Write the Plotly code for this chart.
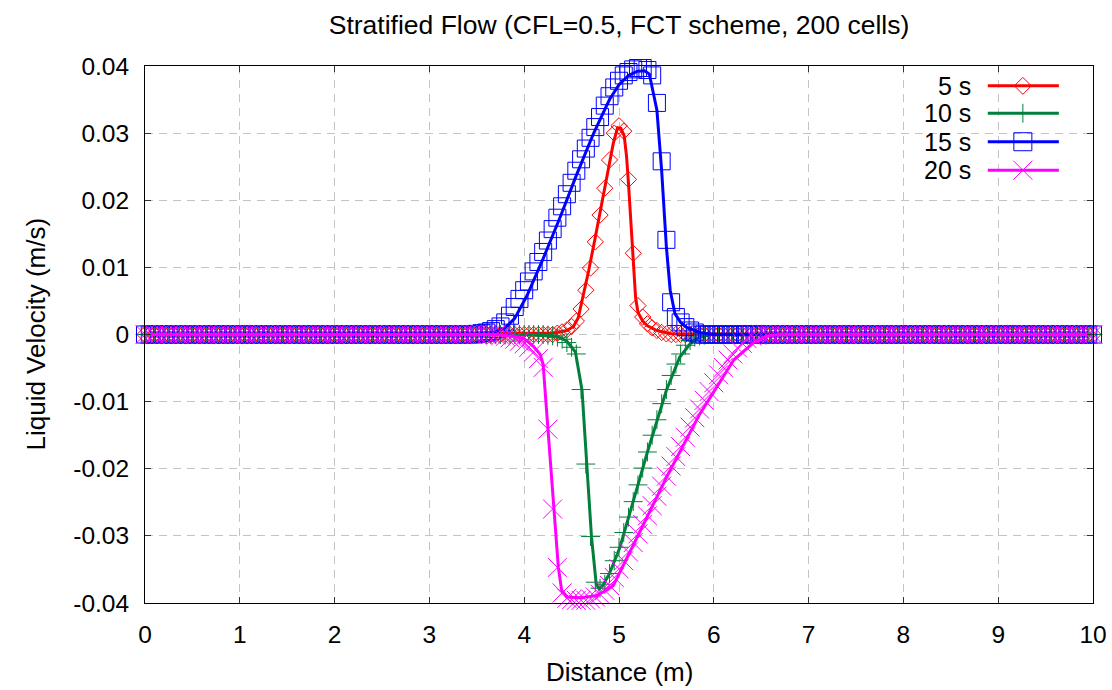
import numpy as np
import plotly.graph_objects as go

# ---------------- data ----------------
# cell positions (200 cells, markers from 0 to 10 m)
cell_x = [round(i * 0.05, 2) for i in range(201)]

# numerical solution (markers): non-zero cells only, all other cells are 0
num5_x = [4.35, 4.40, 4.45, 4.50, 4.55, 4.60, 4.65, 4.70, 4.75, 4.80, 4.85, 4.90, 4.95,
          5.00, 5.05, 5.10, 5.15, 5.20, 5.25, 5.30, 5.35, 5.40, 5.45, 5.50]
num5_y = [0.0002, 0.0004, 0.0007, 0.0012, 0.0020, 0.0038, 0.0066, 0.0099, 0.0138, 0.0178,
          0.0218, 0.0260, 0.0300, 0.0311, 0.0303, 0.0231, 0.0121, 0.0043, 0.0026, 0.0016,
          0.0010, 0.0006, 0.0003, 0.0001]

num10_x = [4.25, 4.30, 4.35, 4.40, 4.45, 4.50, 4.55, 4.60, 4.65, 4.70, 4.75, 4.80, 4.85,
           4.90, 4.95, 5.00, 5.05, 5.10, 5.15, 5.20, 5.25, 5.30, 5.35, 5.40, 5.45, 5.50,
           5.55, 5.60, 5.65, 5.70, 5.75, 5.80, 5.85, 5.90]
num10_y = [-0.0001, -0.0002, -0.0004, -0.0007, -0.0012, -0.0019, -0.0029, -0.0082, -0.0193,
           -0.0301, -0.0369, -0.0378, -0.0372, -0.0356, -0.0337, -0.0317, -0.0295, -0.0272,
           -0.0249, -0.0224, -0.0199, -0.0175, -0.0150, -0.0127, -0.0103, -0.0082, -0.0061,
           -0.0044, -0.0029, -0.0016, -0.0009, -0.0004, -0.0002, -0.0001]

num15_x = [3.50, 3.55, 3.60, 3.65, 3.70, 3.75, 3.80, 3.85, 3.90, 3.95, 4.00, 4.05, 4.10,
           4.15, 4.20, 4.25, 4.30, 4.35, 4.40, 4.45, 4.50, 4.55, 4.60, 4.65, 4.70, 4.75,
           4.80, 4.85, 4.90, 4.95, 5.00, 5.05, 5.10, 5.15, 5.20, 5.25, 5.30, 5.35, 5.40,
           5.45, 5.50, 5.55, 5.60, 5.65, 5.70, 5.75, 5.80]
num15_y = [0.0001, 0.0002, 0.0003, 0.0005, 0.0008, 0.0012, 0.0018, 0.0028, 0.0041, 0.0053,
           0.0066, 0.0079, 0.0094, 0.0108, 0.0123, 0.0140, 0.0157, 0.0174, 0.0191, 0.0209,
           0.0226, 0.0244, 0.0261, 0.0277, 0.0293, 0.0309, 0.0324, 0.0341, 0.0355, 0.0368,
           0.0378, 0.0386, 0.0391, 0.0395, 0.0397, 0.0397, 0.0394, 0.0386, 0.0345, 0.0258,
           0.0141, 0.0048, 0.0026, 0.0018, 0.0011, 0.0006, 0.0003]

num20_x = [3.70, 3.75, 3.80, 3.85, 3.90, 3.95, 4.00, 4.05, 4.10, 4.15, 4.20, 4.25, 4.30,
           4.35, 4.40, 4.45, 4.50, 4.55, 4.60, 4.65, 4.70, 4.75, 4.80, 4.85, 4.90, 4.95,
           5.00, 5.05, 5.10, 5.15, 5.20, 5.25, 5.30, 5.35, 5.40, 5.45, 5.50, 5.55, 5.60,
           5.65, 5.70, 5.75, 5.80, 5.85, 5.90, 5.95, 6.00, 6.05, 6.10, 6.15, 6.20, 6.25,
           6.30, 6.35, 6.40, 6.45]
num20_y = [-0.0001, -0.0002, -0.0003, -0.0005, -0.0007, -0.0010, -0.0014, -0.0019, -0.0026,
           -0.0036, -0.0049, -0.0141, -0.0260, -0.0347, -0.0385, -0.0393, -0.0395, -0.0396,
           -0.0396, -0.0396, -0.0394, -0.0391, -0.0387, -0.0381, -0.0374, -0.0362, -0.0349,
           -0.0337, -0.0324, -0.0310, -0.0297, -0.0283, -0.0270, -0.0255, -0.0241, -0.0226,
           -0.0211, -0.0196, -0.0182, -0.0167, -0.0153, -0.0138, -0.0124, -0.0111, -0.0098,
           -0.0085, -0.0072, -0.0060, -0.0049, -0.0038, -0.0029, -0.0020, -0.0013, -0.0006,
           -0.0002, -0.0001]

# reference solution (solid lines)
ref5_x = [0, 4.30, 4.45, 4.52, 4.57, 4.62, 4.68, 4.75, 4.82, 4.88, 4.94, 4.985, 5.02, 5.055,
          5.08, 5.10, 5.125, 5.15, 5.175, 5.20, 5.25, 5.30, 5.40, 5.55, 10]
ref5_y = [0, 0.0002, 0.0006, 0.0012, 0.0025, 0.0055, 0.0095, 0.0145, 0.0195, 0.0240, 0.0285,
          0.0308, 0.0307, 0.0296, 0.0265, 0.0225, 0.0165, 0.0105, 0.0055, 0.0033, 0.0020,
          0.0013, 0.0006, 0.0001, 0]

ref10_x = [0, 4.0, 4.35, 4.45, 4.54, 4.61, 4.66, 4.71, 4.76, 4.79, 4.83, 4.90, 5.01, 5.15,
           5.30, 5.50, 5.64, 5.75, 5.82, 5.95, 10]
ref10_y = [0, 0, -0.0003, -0.0010, -0.0026, -0.0083, -0.0193, -0.0302, -0.0372, -0.0379,
           -0.0374, -0.0356, -0.0317, -0.0249, -0.0175, -0.0083, -0.0034, -0.0014, -0.0006, 0, 0]

ref15_x = [0, 3.50, 3.70, 3.80, 3.90, 4.03, 4.20, 4.38, 4.55, 4.73, 4.80, 4.90, 5.00, 5.10,
           5.19, 5.27, 5.32, 5.36, 5.40, 5.45, 5.50, 5.54, 5.59, 5.65, 5.71, 5.85, 6.0, 10]
ref15_y = [0, 0.0001, 0.0004, 0.0010, 0.0024, 0.0058, 0.0113, 0.0175, 0.0237, 0.0299, 0.0320,
           0.0350, 0.0372, 0.0386, 0.0392, 0.0393, 0.0388, 0.0363, 0.0334, 0.0244, 0.0130,
           0.0066, 0.0031, 0.0018, 0.0011, 0.0003, 0, 0]

ref20_x = [0, 3.7, 3.99, 4.10, 4.17, 4.20, 4.25, 4.31, 4.36, 4.395, 4.45, 4.60, 4.76, 4.87,
           4.94, 5.15, 5.50, 5.85, 6.21, 6.42, 6.56, 6.7, 10]
ref20_y = [0, 0, -0.0005, -0.0018, -0.0030, -0.0045, -0.0140, -0.0260, -0.0347, -0.0381,
           -0.0391, -0.0392, -0.0389, -0.0381, -0.0374, -0.0314, -0.0213, -0.0119, -0.0038,
           -0.0012, -0.0002, 0, 0]

series_names = ["5 s", "10 s", "15 s", "20 s"]
series_colors = ["#ff0000", "#00803c", "#0000ff", "#ff00ff"]
series_symbols = ["diamond-open", "cross-thin-open", "square-open", "x-thin-open"]
series_sizes = [12.5, 13.5, 17, 19]
key_sizes = [13, 13.5, 18, 19]

x_ticks = [0, 1, 2, 3, 4, 5, 6, 7, 8, 9, 10]
y_ticks = [-0.04, -0.03, -0.02, -0.01, 0, 0.01, 0.02, 0.03, 0.04]
y_ticktext = ["-0.04", "-0.03", "-0.02", "-0.01", "0", "0.01", "0.02", "0.03", "0.04"]


def full_series(nx, ny):
    vals = dict(zip([round(v, 2) for v in nx], ny))
    return [vals.get(x, 0.0) for x in cell_x]


num_sets = [(num5_x, num5_y), (num10_x, num10_y), (num15_x, num15_y), (num20_x, num20_y)]
ref_sets = [(ref5_x, ref5_y), (ref10_x, ref10_y), (ref15_x, ref15_y), (ref20_x, ref20_y)]

FONT = "Liberation Sans, Arial, sans-serif"
TXT = 26
fig = go.Figure()

for i in range(4):
    col = series_colors[i]
    fig.add_trace(go.Scatter(
        x=cell_x, y=full_series(*num_sets[i]), mode="markers", showlegend=False,
        cliponaxis=False,
        marker=dict(symbol=series_symbols[i], size=series_sizes[i], color=col,
                    line=dict(color=col, width=1)),
        hoverinfo="skip"))
    fig.add_trace(go.Scatter(
        x=ref_sets[i][0], y=ref_sets[i][1], mode="lines", showlegend=False,
        line=dict(color=col, width=3), hoverinfo="skip"))

# custom gnuplot-style key (text right-aligned, sample on its right), on an overlay axis
key_rows = [0.963, 0.912, 0.859, 0.806]
for i in range(4):
    col = series_colors[i]
    fig.add_trace(go.Scatter(
        x=[0.889, 0.964], y=[key_rows[i]] * 2, mode="lines", xaxis="x2", yaxis="y2",
        line=dict(color=col, width=3), showlegend=False, hoverinfo="skip"))
    fig.add_trace(go.Scatter(
        x=[0.926], y=[key_rows[i]], mode="markers", xaxis="x2", yaxis="y2",
        marker=dict(symbol=series_symbols[i], size=key_sizes[i], color=col,
                    line=dict(color=col, width=1)),
        showlegend=False, hoverinfo="skip"))
    fig.add_annotation(x=0.873, y=key_rows[i], xref="x2", yref="y2", text=series_names[i],
                       showarrow=False, xanchor="right", yanchor="middle",
                       font=dict(family=FONT, size=25, color="black"))

# axis titles
fig.add_annotation(x=0.5, y=-(672 - 603) / 537, xref="paper", yref="paper",
                   text="Distance (m)", showarrow=False, xanchor="center", yanchor="middle",
                   font=dict(family=FONT, size=TXT, color="black"))
fig.add_annotation(x=(35 - 145) / 948, y=0.5, xref="paper", yref="paper",
                   text="Liquid Velocity (m/s)", showarrow=False, textangle=-90,
                   xanchor="center", yanchor="middle",
                   font=dict(family=FONT, size=TXT, color="black"))

axis_common = dict(
    showline=True, linecolor="black", linewidth=1, mirror="allticks",
    ticks="inside", ticklen=6, tickwidth=1, tickcolor="#333333",
    showgrid=True, gridcolor="#c4c4c4", gridwidth=1, griddash="8px,6px",
    zeroline=False, automargin=False,
    tickfont=dict(family=FONT, size=24.5, color="black"),
)

fig.update_layout(
    width=1112, height=690,
    margin=dict(l=145, r=19, t=66, b=87),
    paper_bgcolor="white", plot_bgcolor="white",
    title=dict(text="Stratified Flow (CFL=0.5, FCT scheme, 200 cells)", xref="paper", x=0.5,
               xanchor="center", yref="container", y=1 - 25 / 690, yanchor="middle",
               font=dict(family=FONT, size=26.5, color="black")),
    xaxis=dict(range=[0, 10], tickvals=x_ticks, ticktext=[str(v) for v in x_ticks],
               ticklabelstandoff=10, **axis_common),
    yaxis=dict(range=[-0.04, 0.04], tickvals=y_ticks, ticktext=y_ticktext,
               ticklabelstandoff=10, **axis_common),
    xaxis2=dict(range=[0, 1], overlaying="x", visible=False, fixedrange=True),
    yaxis2=dict(range=[0, 1], overlaying="y", visible=False, fixedrange=True),
    showlegend=False,
)

fig.write_html("out.html")
